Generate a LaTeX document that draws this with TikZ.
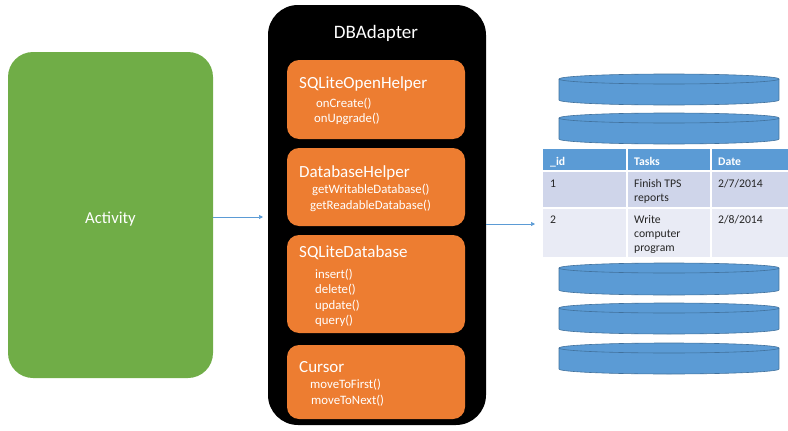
\documentclass[tikz,border=0pt]{standalone}
\usepackage{fontspec}
\setmainfont{Carlito}
\usetikzlibrary{arrows.meta}
\definecolor{actgreen}{HTML}{70AD47}
\definecolor{boxorange}{HTML}{ED7D31}
\definecolor{dbblue}{HTML}{5B9BD5}
\definecolor{dbline}{HTML}{41719C}
\definecolor{rowa}{HTML}{CFD5EA}
\definecolor{rowb}{HTML}{E9EBF5}
\definecolor{celltext}{HTML}{262626}
\tikzset{
  classbox/.style={fill=boxorange, rounded corners=12pt, minimum width=178pt, inner sep=0pt},
  title/.style={anchor=base west, text=white, inner sep=0pt, font=\fontsize{17}{20}\selectfont},
  method/.style={anchor=base west, text=white, inner sep=0pt, font=\fontsize{12.8}{15}\selectfont},
  cell/.style={anchor=base west, text=celltext, inner sep=0pt, font=\fontsize{11.7}{14}\selectfont},
  head/.style={anchor=base west, text=white, inner sep=0pt, font=\fontsize{11.7}{14}\selectfont\bfseries},
  flow/.style={draw=dbblue, line width=0.7pt, -{Triangle[length=4pt,width=4pt]}},
  diskfill/.style={fill=dbblue},
  diskline/.style={draw=dbline, line width=0.6pt},
}
\begin{document}
\begin{tikzpicture}[x=1pt,y=-1pt]
\useasboundingbox (0,0) rectangle (788,431);
% Activity
\node[fill=actgreen, rounded corners=25pt, minimum width=205pt, minimum height=326pt, inner sep=0pt] (act) at (110.5,215) {};
\node[anchor=base, text=white, inner sep=0pt, font=\fontsize{16.7}{20}\selectfont] (acttext) at (110.5,223) {Activity};
% DBAdapter
\node[fill=black, rounded corners=30pt, minimum width=218pt, minimum height=420pt, inner sep=0pt] (dba) at (377,215) {};
\node[anchor=base, text=white, inner sep=0pt, font=\fontsize{19}{22}\selectfont] (dbatitle) at (376,38) {DBAdapter};
% class boxes
\node[classbox, minimum height=79pt] (b1) at (376,99.5) {};
\node[classbox, minimum height=78pt] (b2) at (376,187) {};
\node[classbox, minimum height=98pt] (b3) at (376,284) {};
\node[classbox, minimum height=74pt] (b4) at (376,382) {};
\node[title] (t1) at (299,88) {SQLiteOpenHelper};
\node[method] (m11) at (316,107) {onCreate()};
\node[method] (m12) at (314,122.5) {onUpgrade()};
\node[title] (t2) at (299,177) {DatabaseHelper};
\node[method] (m21) at (312,193) {getWritableDatabase()};
\node[method] (m22) at (310,209) {getReadableDatabase()};
\node[title] (t3) at (299,257) {SQLiteDatabase};
\node[method] (m31) at (315,278) {insert()};
\node[method] (m32) at (315,293.5) {delete()};
\node[method] (m33) at (315,309) {update()};
\node[method] (m34) at (315,324.5) {query()};
\node[title] (t4) at (299,372) {Cursor};
\node[method] (m41) at (310,388) {moveToFirst()};
\node[method] (m42) at (311,404) {moveToNext()};
% disks
\foreach \t/\b in {74/105, 113/144, 263/295, 303/334, 343/374}{
  \fill[diskfill] (559,\t+5) rectangle (779,\b-5);
  \fill[diskfill] (669,\b-5) ellipse[x radius=110pt, y radius=5pt];
  \fill[diskfill] (669,\t+5) ellipse[x radius=110pt, y radius=5pt];
  \draw[diskline] (669,\t+5) ellipse[x radius=110pt, y radius=5pt];
  \draw[diskline] (559,\t+5) -- (559,\b-5) arc[start angle=180, end angle=360, x radius=110pt, y radius=5pt] -- (779,\t+5);
}
% table
\fill[dbblue] (543,149) rectangle (788,171);
\fill[rowa] (543,171) rectangle (788,208);
\fill[rowb] (543,208) rectangle (788,257);
\draw[white, line width=1.2pt] (543,171) -- (788,171) (543,208) -- (788,208)
  (627,149) -- (627,257) (711,149) -- (711,257);
\node[inner sep=0pt, minimum width=245pt, minimum height=108pt] (tbl) at (665.5,203) {};
\node[head] (h1) at (550,165) {\_id};
\node[head] (h2) at (634,165) {Tasks};
\node[head] (h3) at (718,165) {Date};
\node[cell] (c11) at (550,187) {1};
\node[cell] (c12) at (634,187) {Finish TPS};
\node[cell] (c12b) at (634,201) {reports};
\node[cell] (c13) at (718,187) {2/7/2014};
\node[cell] (c21) at (550,223) {2};
\node[cell] (c22) at (634,223) {Write};
\node[cell] (c22b) at (634,237) {computer};
\node[cell] (c22c) at (634,251) {program};
\node[cell] (c23) at (718,223) {2/8/2014};
% arrows
\coordinate (a1) at (263,217);
\coordinate (a2) at (535,224);
\draw[flow] (act.east |- a1) -- (a1);
\draw[flow] (dba.east |- a2) -- (a2);
\end{tikzpicture}
\end{document}
